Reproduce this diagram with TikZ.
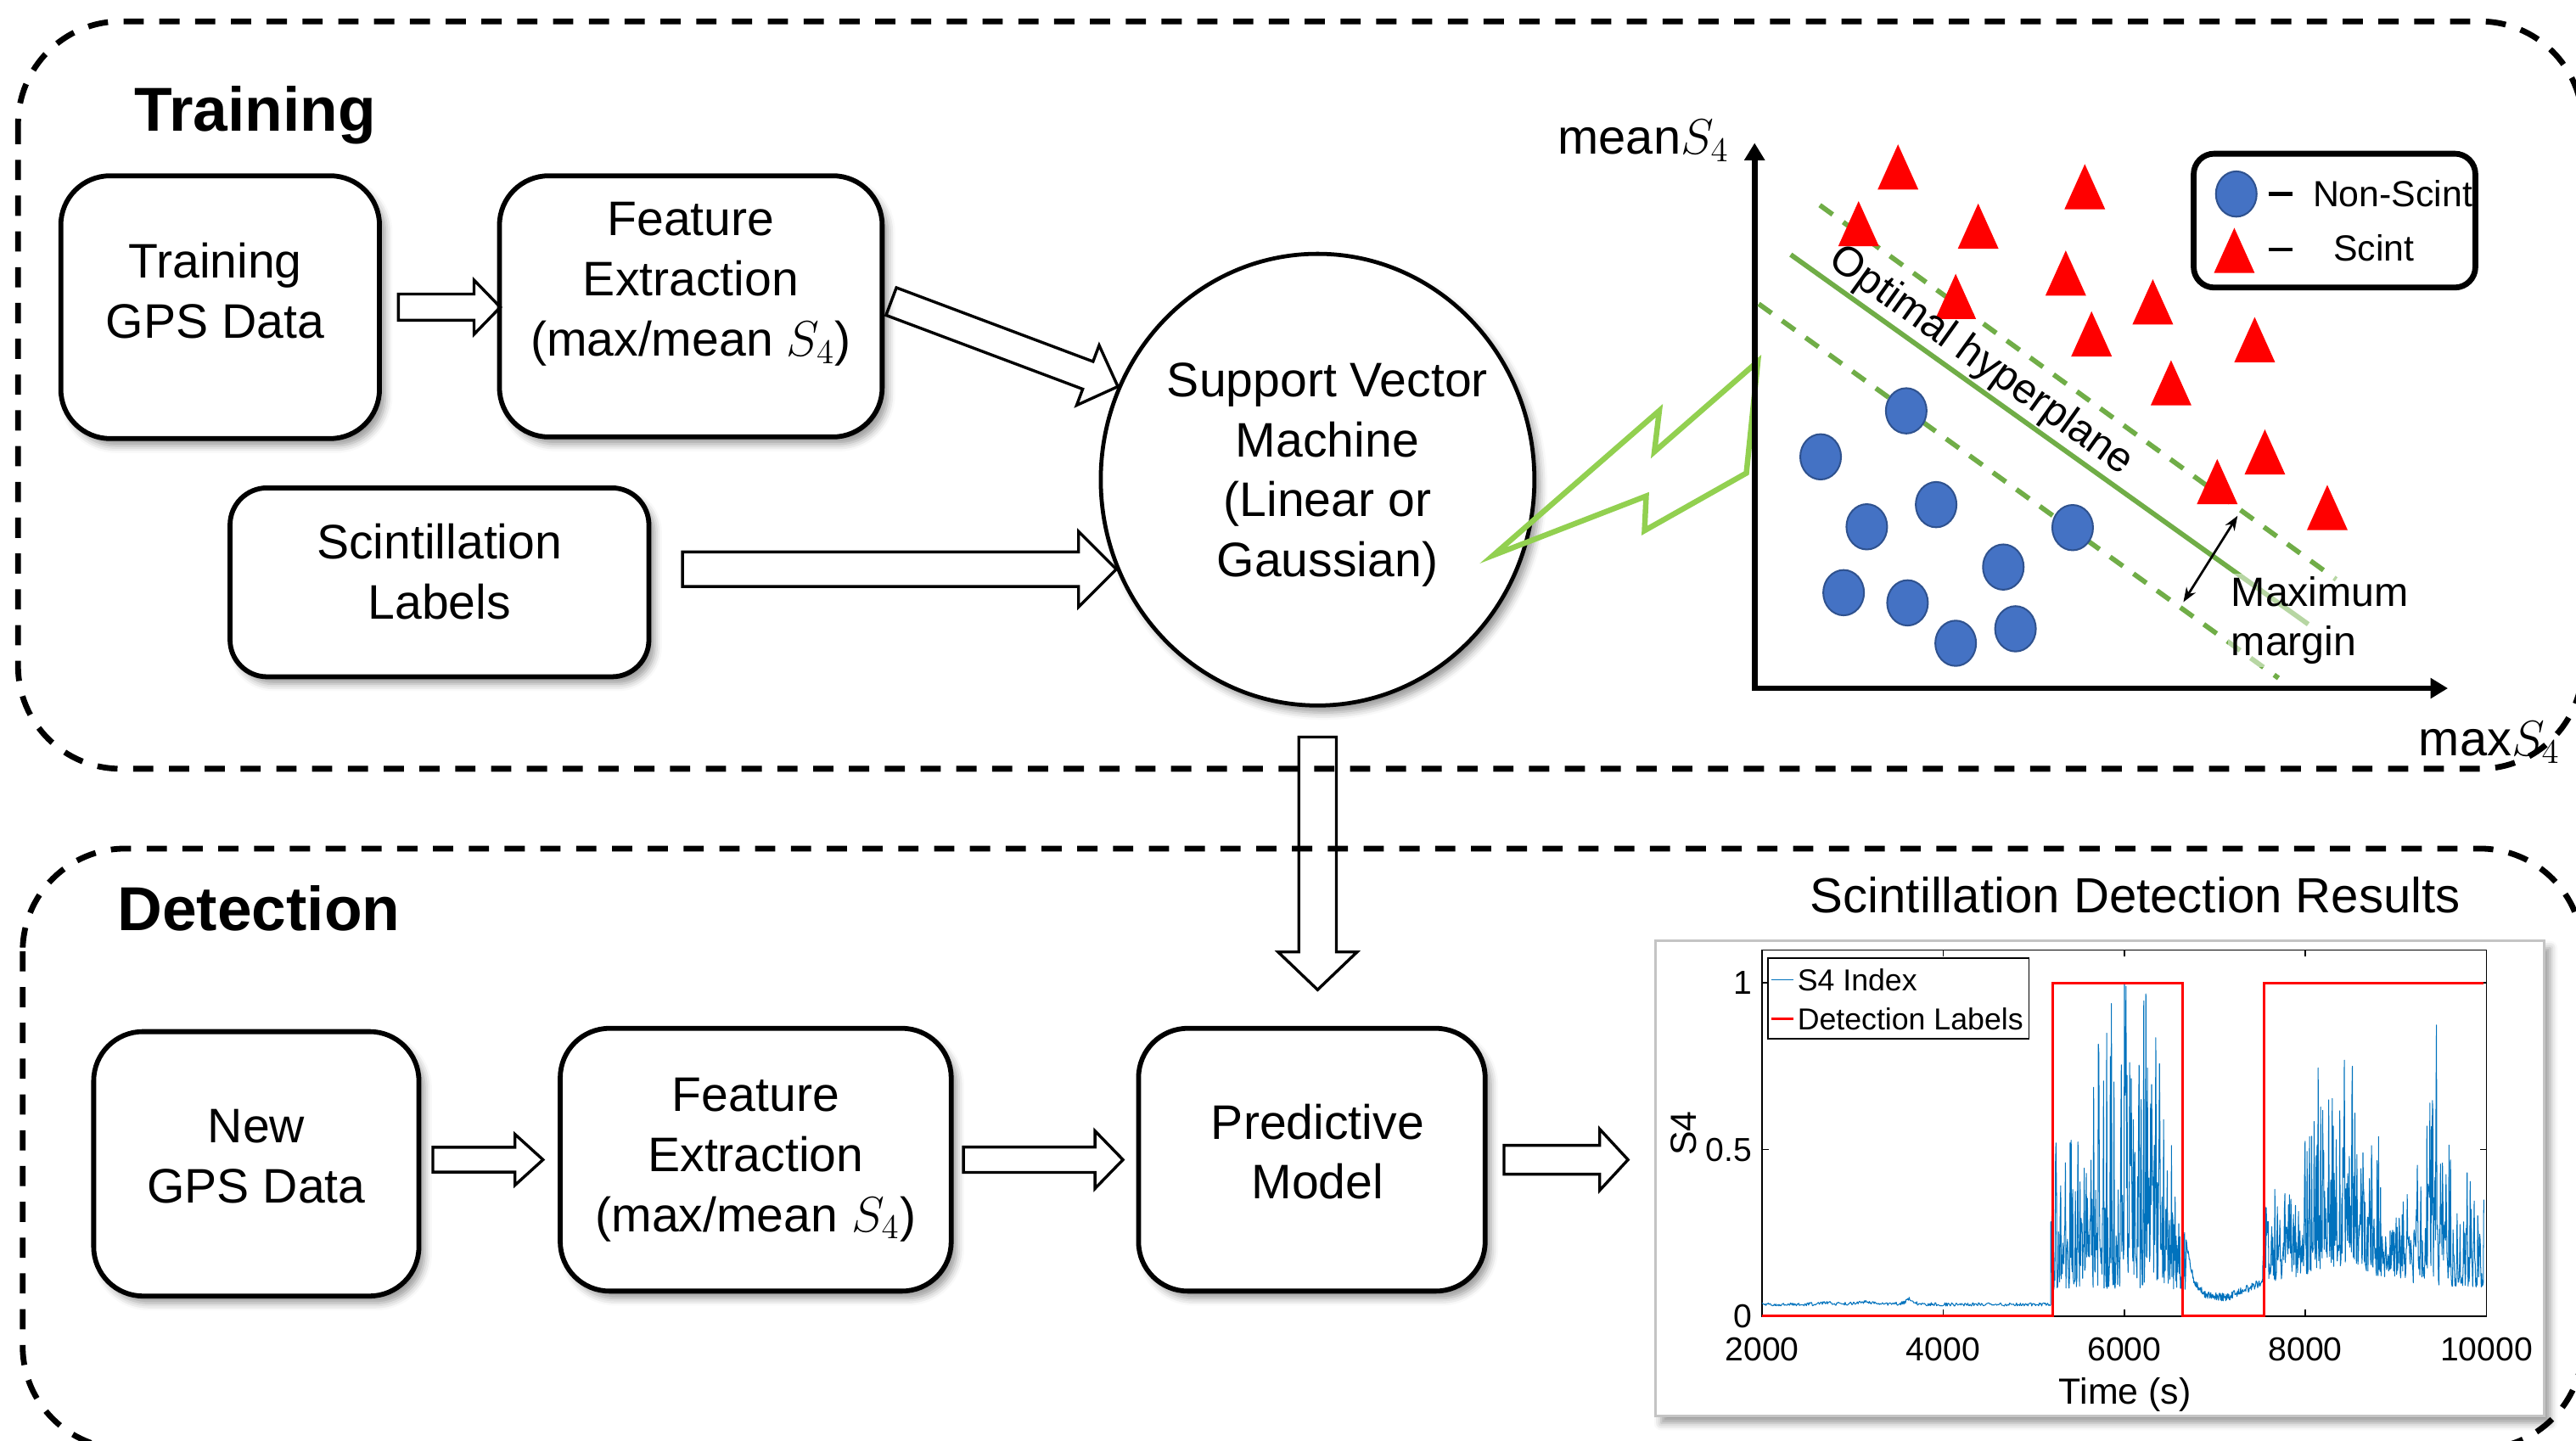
\documentclass[tikz,border=0pt]{standalone}
\usepackage{fontspec}
\setmainfont{Liberation Sans}
\usepackage{tikz}
\usetikzlibrary{arrows.meta, calc, shapes.geometric, shadows.blur}
\definecolor{svmgreen}{HTML}{70AD47}
\definecolor{boltgreen}{HTML}{92D050}
\definecolor{dotblue}{HTML}{4472C4}
\definecolor{dotedge}{HTML}{2F528F}
\definecolor{trired}{HTML}{FF0000}
\definecolor{s4blue}{HTML}{0072BD}
\definecolor{framegray}{HTML}{C4C4C4}
\tikzset{
    declare function={bump(\t,\c,\w)=1/(1+((\t-\c)/\w)*((\t-\c)/\w));},
    stage/.style={draw, line width=2pt, dash pattern=on 7pt off 5.4pt,
        rounded corners=1.25cm},
    stagetitle/.style={anchor=base west, inner sep=0pt,
        font=\fontsize{21.5}{26}\selectfont\bfseries},
    procbox/.style={draw, line width=1.7pt, rounded corners=0.6cm,
        fill=white, inner sep=0pt,
        blur shadow={shadow xshift=2pt, shadow yshift=-2.5pt, shadow blur radius=2.5pt}},
    svmnode/.style={ellipse, draw, line width=1.4pt, fill=white, inner sep=0pt,
        minimum width=5.28cm, minimum height=5.5cm,
        blur shadow={shadow xshift=2pt, shadow yshift=-2.5pt, shadow blur radius=2.5pt}},
    boxtext/.style={align=center, font=\fontsize{16.8}{20.8}\selectfont},
    blockarr/.style={draw, line width=1pt, line join=miter},
    bolt/.style={draw=boltgreen, line width=1.9pt, line join=miter},
    axisarr/.style={line width=2pt,
        {Triangle[length=6pt, width=6.8pt]}-{Triangle[length=6pt, width=6.8pt]}},
    hyper/.style={svmgreen, line width=1.7pt},
    marginline/.style={svmgreen, line width=1.7pt, dash pattern=on 5.5pt off 4.5pt},
    bluedot/.style={draw=dotedge, fill=dotblue, line width=0.6pt},
    redtri/.style={fill=trired},
    svmlabel/.style={anchor=base west, inner sep=0pt, font=\fontsize{17}{20}\selectfont},
    legtext/.style={anchor=base west, inner sep=0pt, font=\fontsize{12.6}{15}\selectfont},
    plotframe/.style={draw=framegray, line width=0.8pt, fill=white, inner sep=0pt,
        blur shadow={shadow xshift=2pt, shadow yshift=-2.5pt, shadow blur radius=2.5pt}},
    axline/.style={line width=0.5pt},
    s4line/.style={s4blue, line width=0.3pt, line join=round},
    detline/.style={trired, line width=0.8pt},
    ticklbl/.style={font=\fontsize{11.5}{13}\selectfont},
    axlabel/.style={font=\fontsize{12.6}{15}\selectfont},
    plotleg/.style={anchor=west, inner sep=1pt, font=\fontsize{10.5}{12}\selectfont},
}
% hollow block arrow: start, end, half shaft, half head, head length
\newcommand{\blockarrow}[5]{%
    \coordinate (ba-s) at (#1);
    \coordinate (ba-e) at (#2);
    \coordinate (ba-h) at ($(ba-e)!#5!(ba-s)$);
    \draw[blockarr] ($(ba-s)!#3!90:(ba-e)$) -- ($(ba-h)!#3!-90:(ba-s)$)
        -- ($(ba-h)!#4!-90:(ba-s)$) -- (ba-e) -- ($(ba-h)!#4!90:(ba-s)$)
        -- ($(ba-h)!#3!90:(ba-s)$) -- ($(ba-s)!#3!-90:(ba-e)$) -- cycle;
}

\begin{document}
\begin{tikzpicture}[x=0.02cm, y=-0.02cm]
    \useasboundingbox (0,0) rectangle (1568,877);
    \clip (0,0) rectangle (1568,877);

    % stages
    \draw[stage] (11,13) rectangle (1572,468);
    \draw[stage] (13.8,516.6) rectangle (1572,882);
    \node[stagetitle] (trainttl) at (81.5,80) {Training};
    \node[stagetitle] (detttl) at (71.2,566.5) {Detection};

    % training blocks
    \node[procbox, minimum width=3.88cm, minimum height=3.2cm,
        label={[boxtext, xshift=-1.7pt, yshift=5.7pt]center:Training\\GPS Data}] (tgps) at (134,187) {};
    \node[procbox, minimum width=4.66cm, minimum height=3.18cm,
        label={[boxtext, yshift=7.7pt]center:Feature\\Extraction\\(max/mean $S_4$)}] (tfeat) at (420.5,186.5) {};
    \node[procbox, minimum width=5.1cm, minimum height=2.3cm, rounded corners=0.45cm,
        label={[boxtext, yshift=3.7pt]center:Scintillation\\Labels}] (slab) at (267.5,354.5) {};
    \node[svmnode,
        label={[boxtext, xshift=3.4pt, yshift=1.7pt]center:Support Vector\\Machine\\(Linear or\\Gaussian)}] (svm) at (802,292) {};

    % detection blocks
    \node[procbox, minimum width=3.96cm, minimum height=3.22cm,
        label={[boxtext, yshift=2.6pt]center:New\\GPS Data}] (ngps) at (156,708.5) {};
    \node[procbox, minimum width=4.76cm, minimum height=3.2cm,
        label={[boxtext]center:Feature\\Extraction\\(max/mean $S_4$)}] (bfeat) at (460,706) {};
    \node[procbox, minimum width=4.22cm, minimum height=3.2cm,
        label={[boxtext, xshift=2pt, yshift=2.8pt]center:Predictive\\Model}] (pred) at (798.5,706) {};
    \node[plotframe, minimum width=10.824cm, minimum height=5.786cm] (results) at (1278.2,717.35) {};

    % block arrows
    \blockarrow{$(tgps.east)+(10,0)$}{$(tgps.east -| tfeat.west)+(2,0)$}{4.55pt}{9.4pt}{9.1pt}
    \blockarrow{$(tfeat.east)+(4,-3)$}{svm.155}{5.1pt}{11.1pt}{11.1pt}
    \blockarrow{$(slab.east |- svm.204)+(19,0)$}{svm.204}{6pt}{13.1pt}{13.1pt}
    \blockarrow{$(svm.south)+(0,18)$}{$(svm.south |- pred.north)+(0,-22)$}{6.5pt}{13.7pt}{13.1pt}
    \blockarrow{$(ngps.east |- bfeat.west)+(7,0)$}{$(bfeat.west)+(-9,0)$}{4.3pt}{8.8pt}{9.7pt}
    \blockarrow{$(bfeat.east)+(6,0)$}{$(pred.west)+(-8,0)$}{4.4pt}{10pt}{9.7pt}
    \blockarrow{$(pred.east)+(10,0)$}{$(pred.east -| results.west)+(-16,0)$}{5pt}{10.6pt}{9.8pt}

    % lightning bolt
    \draw[bolt] (909,338) -- (1010,250) -- (1007,275) -- (1070,220) -- (1063,288)
        -- (1001,323) -- (1002,302) -- cycle;

    % svm sketch
    \draw[axisarr] (1068,87) -- (1068,419) -- (1490,419);
    \node[svmlabel] (ylab) at (948,93.6) {mean$S_4$};
    \node[svmlabel] (xlab) at (1472,460) {max$S_4$};
    \draw[hyper] (1090,155) -- (1405,380);
    \draw[marginline] (1107.7,124.9) -- (1422,352.7);
    \draw[marginline] (1070.5,185) -- (1386.9,412.8);
    \foreach \px/\py in {1160.3/250.1, 1108.2/278.1, 1178.5/307.2, 1136.3/320.7, 1261.6/321.2,
        1219.4/345.2, 1122.2/360.8, 1161.1/367.0, 1226.8/382.8, 1190.4/391.6}
        \draw[bluedot] (\px,\py) ellipse [x radius=12.4, y radius=13.8];
    \foreach \tx/\ty in {1155.3/115.4, 1269.0/127.4, 1131.3/149.9, 1204.1/151.4, 1257.4/180.0,
        1190.4/194.2, 1310.4/197.5, 1273.1/217.0, 1372.4/220.5, 1321.5/246.8,
        1378.6/288.9, 1349.6/306.9, 1416.6/322.7}
        \fill[redtri] (\tx,\ty) -- ++(-12.4,0) -- ++(12.4,-27.5) -- ++(12.4,27.5) -- cycle;
    \draw[line width=0.8pt, {Stealth[length=5pt]}-{Stealth[length=5pt]}] (1362,314) -- (1329,366.5);
    \node[rotate=-35.6, font=\fontsize{14.5}{17}\selectfont] (hyplab) at (1205.8,220) {Optimal hyperplane};
    \node[anchor=west, align=left, fill=white, fill opacity=0.5, text opacity=1, inner sep=1pt,
        font=\fontsize{14.2}{17}\selectfont] (marglab) at (1356,377.6) {Maximum\\margin};

    % svm legend
    \node[draw, line width=2pt, rounded corners=0.25cm, minimum width=3.43cm, minimum height=1.63cm] (svmleg) at (1421,134.3) {};
    \draw[bluedot] (1361.2,118.1) ellipse [x radius=12.4, y radius=13.8];
    \fill[redtri] (1360,166.2) -- ++(-12.4,0) -- ++(12.4,-27.5) -- ++(12.4,27.5) -- cycle;
    \draw[line width=1.4pt] (1380.7,118.1) -- (1395.2,118.1);
    \draw[line width=1.4pt] (1380.7,151.9) -- (1395.2,151.9);
    \node[legtext] (nonscint) at (1407.5,126) {Non-Scint};
    \node[legtext] (scint) at (1420,158.7) {Scint};

    % detection results
    \node[font=\fontsize{17.1}{20}\selectfont] (restitle) at (1299.8,545) {Scintillation Detection Results};
    \draw[axline] (1072.6,578.3) rectangle (1513.5,801.2);
    \foreach \t in {4000,6000,8000} {
        \draw[axline] ({1072.6+(\t-2000)*0.055113},801.2) -- ++(0,-4);
        \draw[axline] ({1072.6+(\t-2000)*0.055113},578.3) -- ++(0,4);
    }
    \foreach \v in {0.5,1} {
        \draw[axline] (1072.6,{801.2-202.8*\v}) -- ++(4,0);
        \draw[axline] (1513.5,{801.2-202.8*\v}) -- ++(-4,0);
    }
    \pgfmathsetseed{11}
    \begin{scope}[shift={(1072.6,801.2)}, x=0.0011023cm, y=4.056cm]
        \draw[s4line] plot[domain=2000:5200, samples=380]
            ({\x-2000}, {0.03+0.01*rnd+0.016*bump(\x,3630,40)+0.008*bump(\x,3150,120)+0.006*bump(\x,2700,60)})
            -- plot[domain=5200:6700, samples=260]
            ({\x-2000}, {min(1.0,0.08+(0.5+0.62*bump(\x,6050,300))*(1-0.55*max(0,(\x-6450)/250))*rnd*rnd)})
            -- plot[domain=6700:7550, samples=150]
            ({\x-2000}, {0.04+0.17*bump(\x,6690,70)+0.025*rnd+0.05*max(0,(\x-7150)/400)})
            -- plot[domain=7550:10000, samples=440]
            ({\x-2000}, {min(0.98,0.08+0.07*bump(\x,8400,500)+(0.3+0.55*bump(\x,8350,280)+0.6*bump(\x,9430,120))*rnd*rnd)});
        \draw[detline] (0,0) -- (3221,0) -- (3221,1) -- (4660,1) -- (4660,0)
            -- (5563,0) -- (5563,1) -- (8000,1);
    \end{scope}
    \foreach \t [count=\i] in {2000,4000,6000,8000,10000}
        \node[ticklbl, anchor=north, yshift=-4pt] (xt\i) at ({1072.6+(\t-2000)*0.055113},801.2) {\t};
    \foreach \v/\lbl [count=\i] in {0/0, 0.5/0.5, 1/1}
        \node[ticklbl, anchor=east] (yt\i) at (1072.6,{801.2-202.8*\v}) {\lbl};
    \node[axlabel, rotate=90] (s4lab) at (1024.7,690) {S4};
    \node[axlabel] (timelab) at (1293.5,849) {Time (s)};

    % plot legend
    \node[draw, axline, fill=white, inner sep=0pt, minimum width=3.176cm, minimum height=0.978cm] (s4leg) at (1155.6,607.85) {};
    \draw[s4line] (1078,596.6) -- (1091.7,596.6);
    \draw[detline] (1078,620.3) -- (1091.7,620.3);
    \node[plotleg] (s4item) at (1092,596.6) {S4 Index};
    \node[plotleg] (detitem) at (1092,620.3) {Detection Labels};
\end{tikzpicture}
\end{document}
